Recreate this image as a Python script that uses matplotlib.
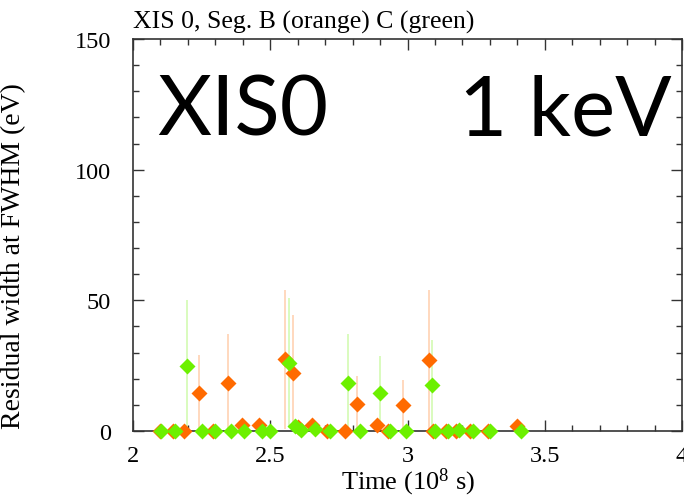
import numpy as np
import matplotlib
matplotlib.use('Agg')
import matplotlib.pyplot as plt
from matplotlib.ticker import MultipleLocator

# Seg. B (orange)
time_b = [2.098, 2.145, 2.187, 2.240, 2.290, 2.347, 2.397, 2.460, 2.555, 2.582,
          2.602, 2.652, 2.707, 2.773, 2.816, 2.890, 2.928, 2.985, 3.077, 3.093,
          3.139, 3.175, 3.228, 3.292, 3.400]
width_b = [0, 0, 0, 14.5, 0, 18.5, 2.2, 2.4, 27.4, 22.2,
           1.5, 2.3, 0, 0, 10.5, 2.2, 0, 9.8, 27.0, 0,
           0, 0, 0, 0, 1.8]
err_b = [0, 0, 0, 14.5, 0, 18.5, 0, 0, 26.6, 22.0,
         0, 0, 0, 0, 10.5, 0, 0, 9.7, 27.0, 0,
         0, 0, 0, 0, 0]

# Seg. C (green)
time_c = [2.102, 2.153, 2.198, 2.251, 2.299, 2.356, 2.405, 2.471, 2.499, 2.567,
          2.590, 2.612, 2.662, 2.719, 2.783, 2.827, 2.900, 2.937, 2.995, 3.088,
          3.099, 3.149, 3.187, 3.237, 3.300, 3.413]
width_c = [0, 0, 25.0, 0, 0, 0, 0, 0, 0, 26.0,
           1.8, 0.3, 0.8, 0, 18.5, 0, 14.4, 0, 0, 17.7,
           0, 0, 0.5, 0, 0, 0]
err_c = [0, 0, 25.0, 0, 0, 0, 0, 0, 0, 25.0,
         0, 0, 0, 0, 18.5, 0, 14.4, 0, 0, 17.3,
         0, 0, 0, 0, 0, 0]

orange = '#ff6a00'
green = '#6cf000'
serif = 'Liberation Serif'

plt.rcParams['mathtext.fontset'] = 'custom'
plt.rcParams['mathtext.rm'] = serif
plt.rcParams['mathtext.it'] = serif + ':italic'

fig = plt.figure(figsize=(6.84, 5.02), dpi=100)
ax = fig.add_axes([133 / 684, 1 - 432 / 502, 549 / 684, 392 / 502])

# error bars (faint)
ax.errorbar(time_b, width_b, yerr=err_b, fmt='none', ecolor=orange, alpha=0.3, elinewidth=1.2)
ax.errorbar(time_c, width_c, yerr=err_c, fmt='none', ecolor=green, alpha=0.3, elinewidth=1.2)
ax.plot(time_b, width_b, 'D', color=orange, ms=8, mec='none', clip_on=False, zorder=5)
ax.plot(time_c, width_c, 'D', color=green, ms=8, mec='none', clip_on=False, zorder=6)

ax.set_xlim(2, 4)
ax.set_ylim(0, 150)
ax.xaxis.set_minor_locator(MultipleLocator(0.1))
ax.yaxis.set_major_locator(MultipleLocator(50))
ax.yaxis.set_minor_locator(MultipleLocator(10))
ax.set_xticks([2, 2.5, 3, 3.5, 4])
ax.set_xticklabels(['2', '2.5', '3', '3.5', '4'])
ax.tick_params(which='both', direction='in', top=True, right=True, color='#333333', width=1)
ax.tick_params(which='major', length=8, labelsize=17.5)
ax.tick_params(axis='x', which='major', pad=10)
ax.tick_params(axis='y', which='major', pad=16)
ax.tick_params(which='minor', length=4)
for lab in ax.get_xticklabels() + ax.get_yticklabels():
    lab.set_fontfamily(serif)
for sp in ax.spines.values():
    sp.set_color('#333333')
    sp.set_linewidth(1.2)

ax.set_xlabel('Time (10$^{8}$ s)', fontsize=19, fontfamily=serif, labelpad=0)
ax.set_ylabel('Residual width at FWHM (eV)', fontsize=20, fontfamily=serif)
ax.yaxis.set_label_coords(-0.195, 0.45)
ax.set_title('XIS 0, Seg. B (orange) C (green)', fontsize=18.5, fontfamily=serif, loc='left', pad=8)

fig.text(157 / 684, 1 - 135 / 502, 'XIS0', fontsize=60, family='Lato', ha='left', va='baseline')
fig.text(672 / 684, 1 - 135 / 502, '1 keV', fontsize=60, family='Lato', ha='right', va='baseline')

fig.savefig('out.png', dpi=100)
